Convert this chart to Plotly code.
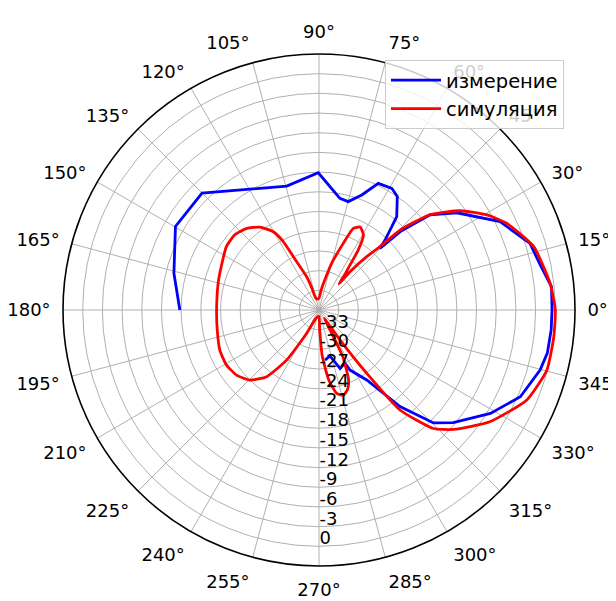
import plotly.graph_objects as go

# measured pattern (degrees, dB)
meas_theta = [180, 165.8, 149.8, 135, 104.6, 90.3, 79.4, 74.9, 69.6, 64.9, 59.1, 55.4, 50.2, 46.7, 45.3,
              44, 40.6, 35.2, 26, 17.5, 11.5, 5.7, 0, -4.9, -10.7, -15.2, -23.3, -31.1, -40, -44.6,
              -50, -55.7, -62.7, -64, -70.2, -76.6, -83.2]
meas_r = [-14.8, -13.2, -10.7, -10.8, -16.5, -15.1, -18.7, -18.9, -17.3, -14.7, -14.4, -15.0, -17.5, -21.3, -22.8,
          -18.8, -13.7, -10.3, -5.3, -2.3, -1.6, -0.4, -0.5, -0.5, -0.6, -1.1, -2.6, -5.5, -9.3, -11.5,
          -16.8, -23.1, -25.7, -27.0, -26.5, -28.8, -28.3]

# simulated pattern (degrees, dB)
sim_theta = [-90, -88, -86, -82, -78, -74, -70, -67, -63, -61.4, -58, -55, -53, -51, -46, -41.6, -33.2,
             -23.4, -14.8, -6.5, 0, 6.6, 16.5, 24.8, 29.5, 35.1, 40.6, 44.6, 46.1, 48.2, 51, 52.5, 54,
             55.4, 56.8, 59.4, 63.6, 67.2, 70, 74.8, 78, 84, 90, 100, 106, 108, 110.3, 115.7, 117.6, 120.3,
             125.5, 131.5, 138.2, 145.6, 154.4, 165.1, 180, 191.1, 202, 210.8, 218.3, 225.4, 231.9, 237.1,
             242.2, 248, 260, 270]
sim_r = [-35, -33, -29, -25.2, -23, -22.5, -23.2, -24.5, -28, -32, -34.5, -30.4, -23.9, -16.4, -10.9, -8.6, -4.9,
         -1.5, -0.1, 0, 0, -0.56, -1.9, -4.5, -6.6, -9.7, -13.7, -18.6, -22.6, -25.1, -28.5, -31, -29.3,
         -27.7, -25.1, -22.7, -21.9, -22.5, -25.2, -28.6, -30.8, -33, -34.2, -34.3, -34, -32.5, -30.6, -27.0, -24.2, -22.2,
         -20.5, -19.4, -18.8, -18.9, -19.6, -20.1, -20.4, -20.2, -19.7, -19.6, -20.0, -21.0, -23.1, -26.9,
         -32, -34.5, -35, -35]

r_tickvals = [-33, -30, -27, -24, -21, -18, -15, -12, -9, -6, -3, 0]
r_ticktext = ["-33", "-30", "-27", "-24", "-21", "-18", "-15", "-12", "-9", "-6", "-3", "0"]
a_tickvals = list(range(0, 360, 15))
a_ticktext = [f"{v}°" for v in a_tickvals]

W, H = 608, 593  # page has an 8 px body margin
cx, cy, R = 311, 302, 256
R_RANGE = [-36, 3]
label_shift = 1.2  # radial labels sit slightly inside their grid circle (as in matplotlib)

dom = dict(x=[(cx - R) / W, (cx + R) / W], y=[(H - cy - R) / H, (H - cy + R) / H])

fig = go.Figure()
fig.add_trace(go.Scatterpolar(theta=meas_theta, r=meas_r, mode="lines", name="измерение",
                              line=dict(color="#0000ff", width=2.8)))
fig.add_trace(go.Scatterpolar(theta=sim_theta, r=sim_r, mode="lines", name="симуляция",
                              line=dict(color="#ff0000", width=2.8, shape="spline", smoothing=0.5)))
# empty trace just to host the radial tick-label overlay
fig.add_trace(go.Scatterpolar(theta=[], r=[], mode="lines", subplot="polar2", showlegend=False,
                              hoverinfo="skip"))

fig.update_layout(
    width=W, height=H,
    margin=dict(l=0, r=0, t=0, b=0),
    paper_bgcolor="white",
    font=dict(family="DejaVu Sans", size=18, color="black"),
    polar=dict(
        domain=dom,
        bgcolor="white",
        angularaxis=dict(rotation=0, direction="counterclockwise",
                         tickmode="array", tickvals=a_tickvals, ticktext=a_ticktext,
                         showline=True, linecolor="black", linewidth=1.6,
                         gridcolor="#b0b0b0", gridwidth=1.2,
                         ticks="outside", ticklen=8, tickcolor="rgba(0,0,0,0)",
                         tickfont=dict(size=18)),
        radialaxis=dict(range=R_RANGE, angle=-90, tickangle=-90,
                        tickmode="array", tickvals=r_tickvals, showticklabels=False,
                        showline=False, ticks="", gridcolor="#b0b0b0", gridwidth=1.2),
    ),
    polar2=dict(
        domain=dom,
        bgcolor="rgba(0,0,0,0)",
        angularaxis=dict(visible=False, rotation=0, direction="counterclockwise"),
        radialaxis=dict(range=R_RANGE, angle=-90, tickangle=-90,
                        tickmode="array", tickvals=[v - label_shift for v in r_tickvals],
                        ticktext=r_ticktext, showgrid=False, showline=False, ticks="",
                        tickfont=dict(size=18), side="counterclockwise"),
    ),
    legend=dict(x=(564 - 8) / W, y=(H - (60 - 8)) / H, xanchor="right", yanchor="top",
                bgcolor="rgba(255,255,255,0.8)", bordercolor="#cccccc", borderwidth=1,
                font=dict(size=19.5), itemwidth=50),
    showlegend=True,
)

fig.write_html("out.html")
